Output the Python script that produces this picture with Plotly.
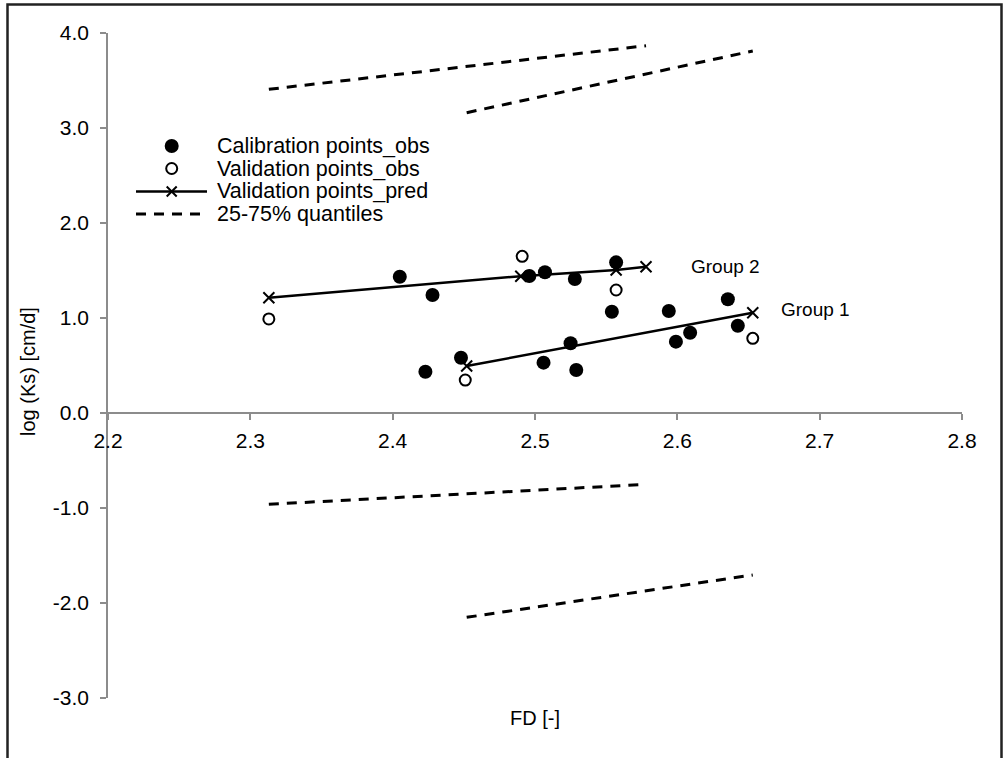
import plotly.graph_objects as go

# Calibration points (observed)
calib_fd = [2.405, 2.428, 2.423, 2.448, 2.496, 2.507, 2.528, 2.557, 2.554, 2.525,
            2.506, 2.529, 2.594, 2.6355, 2.6425, 2.609, 2.599]
calib_logks = [1.435, 1.242, 0.435, 0.582, 1.442, 1.481, 1.410, 1.586, 1.066, 0.734,
               0.530, 0.453, 1.074, 1.197, 0.919, 0.845, 0.751]

# Validation points (observed)
valid_fd = [2.313, 2.491, 2.557, 2.451, 2.653]
valid_logks = [0.990, 1.649, 1.295, 0.347, 0.786]

# Validation points (predicted), one line per group
g2_pred_fd = [2.313, 2.490, 2.557, 2.578]
g2_pred_logks = [1.214, 1.440, 1.505, 1.540]
g1_pred_fd = [2.452, 2.653]
g1_pred_logks = [0.495, 1.056]

# 25-75% quantile lines per group
g2_q_fd = [2.313, 2.578]
g2_q75 = [3.407, 3.866]
g2_q25 = [-0.961, -0.751]
g1_q_fd = [2.452, 2.653]
g1_q75 = [3.161, 3.811]
g1_q25 = [-2.151, -1.705]

x_ticks = [2.2, 2.3, 2.4, 2.5, 2.6, 2.7, 2.8]
y_ticks = [-3, -2, -1, 0, 1, 2, 3, 4]

FONT = "Liberation Sans, Arial, sans-serif"
AXIS_GRAY = "#8c8c8c"

W, H = 1004, 758
ML, MR, MT, MB = 108, 42, 33, 60
PW, PH = W - ML - MR, H - MT - MB


def px_x(p):
    return (p - ML) / PW


def px_y(p):
    return (H - MB - p) / PH


fig = go.Figure()

dash = "10px,8px"
for xs, ys in [(g2_q_fd, g2_q75), (g2_q_fd, g2_q25), (g1_q_fd, g1_q75), (g1_q_fd, g1_q25)]:
    fig.add_trace(go.Scatter(x=xs, y=ys, mode="lines",
                             line=dict(color="black", width=3, dash=dash),
                             showlegend=False, hoverinfo="skip"))

for xs, ys in [(g2_pred_fd, g2_pred_logks), (g1_pred_fd, g1_pred_logks)]:
    fig.add_trace(go.Scatter(x=xs, y=ys, mode="lines+markers",
                             line=dict(color="black", width=2.5),
                             marker=dict(symbol="x-thin", size=11,
                                         line=dict(color="black", width=2)),
                             showlegend=False))

fig.add_trace(go.Scatter(x=calib_fd, y=calib_logks, mode="markers",
                         marker=dict(symbol="circle", size=14, color="black"),
                         showlegend=False))
fig.add_trace(go.Scatter(x=valid_fd, y=valid_logks, mode="markers",
                         marker=dict(symbol="circle-open", size=11, color="black",
                                     line=dict(width=2)),
                         showlegend=False))

# Group labels next to the end of each prediction line
fig.add_annotation(x=g2_pred_fd[-1], y=g2_pred_logks[-1], text="Group 2",
                   xanchor="left", yanchor="middle", xshift=43, showarrow=False,
                   font=dict(size=19, color="black", family=FONT))
fig.add_annotation(x=g1_pred_fd[-1], y=g1_pred_logks[-1], text="Group 1",
                   xanchor="left", yanchor="middle", xshift=26, yshift=3, showarrow=False,
                   font=dict(size=19, color="black", family=FONT))

# Hand-built legend
shapes = []
rows = [146, 168.5, 191.5, 214]
sym_x = px_x(171.7)
labels = ["Calibration points_obs", "Validation points_obs",
          "Validation points_pred", "25-75% quantiles"]
r = 7
shapes.append(dict(type="circle", xref="paper", yref="paper",
                   xsizemode="pixel", ysizemode="pixel",
                   xanchor=sym_x, yanchor=px_y(rows[0]),
                   x0=-r, x1=r, y0=-r, y1=r,
                   fillcolor="black", line=dict(color="black", width=0)))
r2 = 5.5
shapes.append(dict(type="circle", xref="paper", yref="paper",
                   xsizemode="pixel", ysizemode="pixel",
                   xanchor=sym_x, yanchor=px_y(rows[1]),
                   x0=-r2, x1=r2, y0=-r2, y1=r2,
                   fillcolor="white", line=dict(color="black", width=2)))
shapes.append(dict(type="line", xref="paper", yref="paper",
                   x0=px_x(136), x1=px_x(207), y0=px_y(rows[2]), y1=px_y(rows[2]),
                   line=dict(color="black", width=2.5)))
k = 5
shapes.append(dict(type="path", xref="paper", yref="paper",
                   xsizemode="pixel", ysizemode="pixel",
                   xanchor=sym_x, yanchor=px_y(rows[2]),
                   path=f"M{-k},{-k}L{k},{k}M{-k},{k}L{k},{-k}",
                   line=dict(color="black", width=2)))
shapes.append(dict(type="line", xref="paper", yref="paper",
                   x0=px_x(136), x1=px_x(207), y0=px_y(rows[3]), y1=px_y(rows[3]),
                   line=dict(color="black", width=3, dash=dash)))
for yy, lab in zip(rows, labels):
    fig.add_annotation(x=px_x(215), y=px_y(yy), xref="paper", yref="paper",
                       text=lab, xanchor="left", yanchor="middle", showarrow=False,
                       font=dict(size=21.5, color="black", family=FONT))

# Outer frame
shapes.append(dict(type="rect", xref="paper", yref="paper",
                   x0=px_x(7.5), x1=px_x(1001.5), y0=px_y(765), y1=px_y(4.5),
                   line=dict(color="#222222", width=2.5), fillcolor="rgba(0,0,0,0)",
                   layer="below"))

# Axis titles
fig.add_annotation(x=px_x(28), y=px_y(372), xref="paper", yref="paper",
                   text="log (Ks) [cm/d]", textangle=-90, showarrow=False,
                   xanchor="center", yanchor="middle",
                   font=dict(size=20, color="black", family=FONT))
fig.add_annotation(x=0.5, y=px_y(718), xref="paper", yref="paper",
                   text="FD [-]", showarrow=False, xanchor="center", yanchor="middle",
                   font=dict(size=20, color="black", family=FONT))

fig.update_layout(
    width=W, height=H, autosize=False,
    margin=dict(l=ML, r=MR, t=MT, b=MB, pad=0),
    paper_bgcolor="white", plot_bgcolor="white",
    font=dict(family=FONT, color="black", size=21),
    shapes=shapes,
    showlegend=False,
    xaxis=dict(range=[2.2, 2.8], tickvals=x_ticks,
               ticktext=[f"{v:.1f}" for v in x_ticks],
               showgrid=False, zeroline=False, showline=True,
               linecolor=AXIS_GRAY, linewidth=1.5,
               ticks="outside", ticklen=6, tickcolor=AXIS_GRAY, tickwidth=1.5,
               ticklabelstandoff=3,
               anchor="free", position=3 / 7,
               tickfont=dict(size=21, color="black", family=FONT)),
    yaxis=dict(range=[-3, 4], tickvals=y_ticks,
               ticktext=[f"{v:.1f}" for v in y_ticks],
               showgrid=False, zeroline=False, showline=True,
               linecolor=AXIS_GRAY, linewidth=1.5,
               ticks="outside", ticklen=6, tickcolor=AXIS_GRAY, tickwidth=1.5,
               ticklabelstandoff=7,
               tickfont=dict(size=21, color="black", family=FONT)),
)

fig.write_html("out.html")
